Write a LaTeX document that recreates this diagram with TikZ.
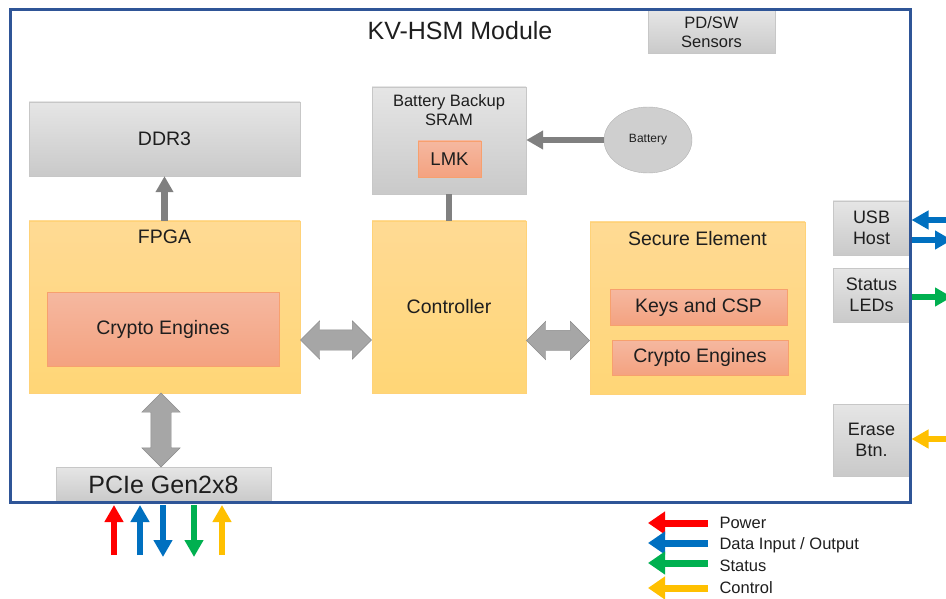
\documentclass[tikz,border=0pt]{standalone}
\usepackage{fontspec}
\setmainfont{Liberation Sans}
\usetikzlibrary{arrows.meta,shapes.arrows,shapes.geometric,calc}
\definecolor{hsmblue}{RGB}{47,85,151}
\definecolor{pwrred}{RGB}{255,0,0}
\definecolor{datablue}{RGB}{0,112,192}
\definecolor{statgreen}{RGB}{0,176,80}
\definecolor{ctlyellow}{RGB}{255,192,0}
\definecolor{linegray}{RGB}{128,128,128}
\definecolor{txt}{RGB}{30,30,30}
\begin{document}
\begin{tikzpicture}[x=1pt,y=-1pt,
  every node/.style={text=txt},
  graybox/.style={draw=black!22, top color=black!10, bottom color=black!21, align=center, font=\fontsize{18}{21}\selectfont},
  orangebox/.style={draw={rgb,255:red,255;green,210;blue,120}, top color={rgb,255:red,255;green,218;blue,148}, bottom color={rgb,255:red,255;green,214;blue,118}, font=\fontsize{19.5}{23}\selectfont},
  salmonbox/.style={draw={rgb,255:red,247;green,160;blue,110}, top color={rgb,255:red,245;green,184;blue,160}, bottom color={rgb,255:red,244;green,162;blue,128}, font=\fontsize{19.5}{23}\selectfont},
  blkarrow/.style={double arrow, draw=black!45, fill=black!35, inner xsep=0pt, inner ysep=10pt, double arrow head extend=9pt, double arrow tip angle=90},
  feed/.style={line width=6pt, -{Triangle[length=17pt,width=18pt]}},
  legarrow/.style={line width=7pt, -{Triangle[length=17pt,width=22pt]}},
  legtext/.style={anchor=west, font=\fontsize{16.5}{19}\selectfont}]
\clip (0,0) rectangle (946,599);

% boxes inside the module
\node[graybox, minimum width=127, minimum height=43, font=\fontsize{16.5}{19}\selectfont] (sensors) at (711.5,32) {PD/SW\\Sensors};
\node[graybox, minimum width=271, minimum height=74, font=\fontsize{19.5}{23}\selectfont] (ddr) at (164.5,139) {DDR3};
\node[graybox, minimum width=154, minimum height=107] (sram) at (449,140.5) {};
\node[anchor=north, align=center, font=\fontsize{16.5}{19.5}\selectfont] (sramtitle) at ([yshift=-4pt]sram.north) {Battery Backup\\SRAM};
\node[salmonbox, minimum width=63, minimum height=36, font=\fontsize{18.5}{22}\selectfont] (lmk) at (449.5,159) {LMK};
\node[ellipse, draw=black!30, fill=black!19, minimum width=88, minimum height=66, font=\fontsize{12}{14}\selectfont] (battery) at (648,140) {Battery};

\node[orangebox, minimum width=271, minimum height=172] (fpga) at (164.5,307) {};
\node[anchor=north, font=\fontsize{19.5}{23}\selectfont] (fpgatitle) at ([yshift=-6pt]fpga.north) {FPGA};
\node[salmonbox, minimum width=232, minimum height=74] (fpgace) at (163,329) {Crypto Engines};

\node[orangebox, minimum width=154, minimum height=172] (ctrl) at (449,307) {Controller};

\node[orangebox, minimum width=215, minimum height=172] (se) at (697.5,308) {};
\node[anchor=north, font=\fontsize{19.5}{23}\selectfont] (setitle) at ([yshift=-6pt]se.north) {Secure Element};
\node[salmonbox, minimum width=177, minimum height=36] (keys) at (698.5,307) {Keys and CSP};
\node[salmonbox, minimum width=176, minimum height=35] (sece) at (700,357.5) {Crypto Engines};

\node[graybox, minimum width=215, minimum height=35, font=\fontsize{25}{29}\selectfont] (pcie) at (163.5,484.5) {PCIe Gen2x8};
\node[graybox, minimum width=77, minimum height=54] (usb) at (871.5,228) {USB\\Host};
\node[graybox, minimum width=77, minimum height=54] (leds) at (871.5,295) {Status\\LEDs};
\node[graybox, minimum width=77, minimum height=72] (erase) at (871.5,440) {Erase\\Btn.};

% module frame and title
\draw[hsmblue, line width=3pt] (10,10) rectangle (910,502);
\node[font=\fontsize{25}{29}\selectfont] (title) at (460,31) {KV-HSM Module};

% internal links
\draw[linegray, feed] (battery.west) -- (sram.east |- battery.west);
\draw[linegray, line width=6pt] (ctrl.north) -- (sram.south);
\draw[linegray, line width=7pt, -{Triangle[length=16pt,width=17pt]}] (fpga.north) -- (ddr.south);
\node[blkarrow, minimum height=71pt] (fpgactrl) at ($(fpga.east)!0.5!(ctrl.west)+(0,33)$) {};
\node[blkarrow, minimum height=63pt] (ctrlse) at ($(ctrl.east)!0.5!(se.west)+(0,33)$) {};
\node[blkarrow, minimum height=74pt, rotate=90] (fpgapcie) at (161,430) {};

% PCIe lines
\coordinate (pwrin) at (114,555);
\coordinate (datin) at (140,555);
\coordinate (datout) at (163,557);
\coordinate (statout) at (194,557);
\coordinate (ctlin) at (222,555);
\draw[pwrred, feed] (pwrin) -- (pwrin |- 0,505);
\draw[datablue, feed] (datin) -- (datin |- 0,505);
\draw[datablue, feed] (datout |- 0,505) -- (datout);
\draw[statgreen, feed] (statout |- 0,505) -- (statout);
\draw[ctlyellow, feed] (ctlin) -- (ctlin |- 0,505);

% side lines
\coordinate (usbin) at (952,220);
\coordinate (usbout) at (952,240);
\coordinate (ledout) at (952,297);
\coordinate (erasein) at (952,439);
\draw[datablue, feed] (usbin) -- (911.5,220);
\draw[datablue, feed] (911.5,240) -- (usbout);
\draw[statgreen, feed] (911.5,297) -- (ledout);
\draw[ctlyellow, feed] (erasein) -- (911.5,439);

% legend
\node[legtext] (lpwr) at (716,523) {Power};
\node[legtext] (ldata) at (716,545) {Data Input / Output};
\node[legtext] (lstat) at (716,566) {Status};
\node[legtext] (lctl) at (716,588) {Control};
\draw[pwrred, legarrow] (lpwr.west) ++(-8,0) -- ++(-60,0);
\draw[datablue, legarrow] (ldata.west) ++(-8,-2) -- ++(-60,0);
\draw[statgreen, legarrow] (lstat.west) ++(-8,-3) -- ++(-60,0);
\draw[ctlyellow, legarrow] (lctl.west) ++(-8,0) -- ++(-60,0);
\end{tikzpicture}
\end{document}
